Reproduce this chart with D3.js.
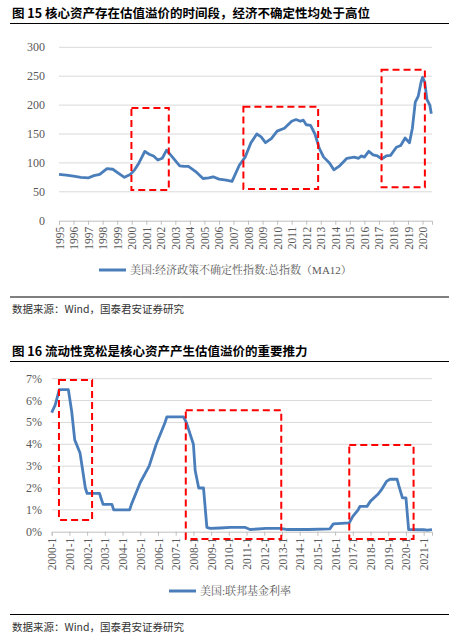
<!DOCTYPE html>
<html><head><meta charset="utf-8">
<script src="https://cdn.jsdelivr.net/npm/d3@7"></script>
<style>body{margin:0;background:#fff}</style>
</head><body>
<svg id="c" width="460" height="643"></svg>
<script>
// chart 1: US economic policy uncertainty index (MA12)
var epuYears = [1995,1995.5,1996,1996.5,1997,1997.4,1997.8,1998.3,1998.7,1999.1,1999.5,1999.9,2000.2,2000.5,2000.9,2001.2,2001.5,2001.8,2002.1,2002.4,2002.8,2003.3,2003.6,2003.9,2004.4,2004.9,2005.3,2005.6,2006.0,2006.5,2006.9,2007.4,2007.8,2008.2,2008.6,2008.9,2009.2,2009.6,2010.0,2010.5,2011.0,2011.3,2011.6,2011.8,2012.0,2012.3,2012.6,2012.9,2013.2,2013.6,2013.9,2014.3,2014.8,2015.3,2015.6,2015.8,2016.0,2016.3,2016.6,2016.9,2017.2,2017.5,2017.8,2018.2,2018.5,2018.8,2019.1,2019.3,2019.5,2019.7,2019.9,2020.0,2020.15,2020.3,2020.5,2020.6];
var epuValues = [80,79,77,75,74,78,80,90,89,82,75,80,88,100,120,115,112,105,108,122,110,95,94,94,85,73,74,76,72,70,68,96,110,135,150,145,135,142,155,160,172,175,172,174,166,165,150,125,110,100,88,95,108,110,108,112,110,120,114,112,107,112,113,127,130,143,135,160,205,215,240,248,240,210,200,185];
var epuTicks = d3.range(1995, 2021);
var epuBoxes = [[1999.98,2002.55,195,53],[2007.68,2012.82,197,55],[2017.18,2020.16,261,58]];

// chart 2: US federal funds rate (%)
var ffrYears = [2000,2000.2,2000.43,2000.94,2001.13,2001.3,2001.6,2001.9,2002.0,2002.7,2002.9,2003.4,2003.5,2004.4,2004.5,2005.0,2005.5,2005.9,2006.4,2006.5,2007.44,2007.6,2008.0,2008.1,2008.3,2008.57,2008.76,2008.95,2009.5,2010.1,2010.9,2011.2,2012.1,2012.9,2013.3,2014.5,2015.7,2015.9,2016.8,2017.0,2017.3,2017.4,2017.8,2018.0,2018.4,2018.6,2018.9,2019.1,2019.5,2019.6,2019.8,2020.0,2020.15,2021.0,2021.2,2021.47];
var ffrValues = [5.45,5.8,6.5,6.5,5.5,4.2,3.6,2.0,1.75,1.75,1.25,1.25,1.0,1.0,1.25,2.25,3.0,4.0,5.0,5.25,5.25,5.0,4.0,2.8,2.0,2.0,0.2,0.15,0.17,0.2,0.2,0.1,0.15,0.15,0.1,0.1,0.13,0.36,0.4,0.7,1.0,1.16,1.16,1.4,1.7,1.9,2.3,2.4,2.4,2.1,1.55,1.55,0.1,0.09,0.07,0.1];
var ffrTicks = d3.range(2000, 2022);
var ffrBoxes = [[2000.41,2002.28,6.94,0.54],[2007.57,2012.96,5.56,-0.33],[2016.8,2020.43,3.97,-0.33]];

var svg = d3.select("#c");
var blue = "#4a7ebb", grey = "#595959";
var serif = "'Liberation Serif','Noto Serif CJK SC','Noto Sans CJK SC',serif";
var cjk = "'Noto Sans CJK SC',sans-serif";

function panel(o) {
  var g = svg.append("g");
  g.append("text").attr("x", 12).attr("y", o.titleY).attr("font-family", cjk)
    .attr("font-weight", "bold").attr("font-size", 12.5).attr("fill", "#000").text(o.title);
  g.append("line").attr("x1", 10).attr("x2", 449).attr("y1", o.ruleY).attr("y2", o.ruleY)
    .attr("stroke", "#000").attr("stroke-width", 1);
  g.append("line").attr("x1", 10).attr("x2", 449).attr("y1", o.srcRule).attr("y2", o.srcRule)
    .attr("stroke", "#000").attr("stroke-width", 1);
  g.append("text").attr("x", 12).attr("y", o.srcRule + 16).attr("font-family", cjk)
    .attr("font-size", 10.5).attr("fill", "#333").text("数据来源：Wind，国泰君安证券研究");

  var x = d3.scaleLinear().domain(o.xDom).range(o.xRange);
  var y = d3.scaleLinear().domain(o.yDom).range(o.yRange);

  g.selectAll(".grid").data(o.yTicks.slice(1)).enter().append("line")
    .attr("x1", o.xRange[0]).attr("x2", o.xRange[1])
    .attr("y1", function(d){ return y(d); }).attr("y2", function(d){ return y(d); })
    .attr("stroke", "#d9d9d9").attr("stroke-width", 1);
  g.selectAll(".yl").data(o.yTicks).enter().append("text")
    .attr("x", o.yLabelX).attr("y", function(d){ return y(d) + 4; })
    .attr("text-anchor", "end").attr("font-family", serif).attr("font-size", 12)
    .attr("fill", grey).text(o.yFmt);

  var ax = g.append("g").attr("transform", "translate(0," + o.yRange[0] + ")")
    .call(d3.axisBottom(x).tickValues(o.xTicks).tickSize(4).tickFormat(o.xFmt));
  ax.select(".domain").attr("stroke", "#bfbfbf");
  ax.selectAll(".tick line").attr("stroke", "#bfbfbf");
  ax.selectAll("text").attr("transform", "rotate(-90)").attr("text-anchor", "end")
    .attr("x", -6).attr("y", 0).attr("dy", "0.35em")
    .attr("font-family", serif).attr("font-size", 11.5).attr("fill", grey);

  g.append("path").datum(d3.zip(o.xs, o.ys))
    .attr("d", d3.line().x(function(d){ return x(d[0]); }).y(function(d){ return y(d[1]); }))
    .attr("fill", "none").attr("stroke", blue).attr("stroke-width", 2.8)
    .attr("stroke-linejoin", "round");

  g.selectAll(".box").data(o.boxes).enter().append("rect")
    .attr("x", function(d){ return x(d[0]); }).attr("y", function(d){ return y(d[2]); })
    .attr("width", function(d){ return x(d[1]) - x(d[0]); })
    .attr("height", function(d){ return y(d[3]) - y(d[2]); })
    .attr("fill", "none").attr("stroke", "#ff0000").attr("stroke-width", 2)
    .attr("stroke-dasharray", "7,4");

  g.append("line").attr("x1", o.legX).attr("x2", o.legX + 27).attr("y1", o.legY).attr("y2", o.legY)
    .attr("stroke", blue).attr("stroke-width", 3);
  g.append("text").attr("x", o.legX + 31).attr("y", o.legY + 4).attr("font-family", serif)
    .attr("font-size", 11).attr("fill", grey).text(o.legend);
}

panel({
  title: "图 15 核心资产存在估值溢价的时间段，经济不确定性均处于高位",
  titleY: 18, ruleY: 23.5, srcRule: 297,
  xDom: [1995, 2020.65], xRange: [59, 432], xTicks: epuTicks, xFmt: d3.format("d"),
  yDom: [0, 300], yRange: [220.7, 47.3], yTicks: d3.range(0, 301, 50), yFmt: d3.format("d"), yLabelX: 45,
  xs: epuYears, ys: epuValues, boxes: epuBoxes,
  legX: 99, legY: 270, legend: "美国:经济政策不确定性指数:总指数（MA12）"
});

panel({
  title: "图 16 流动性宽松是核心资产产生估值溢价的重要推力",
  titleY: 356, ruleY: 361.5, srcRule: 614.5,
  xDom: [2000, 2021.47], xRange: [51.7, 432], xTicks: ffrTicks, xFmt: function(d){ return d + "-1"; },
  yDom: [0, 7], yRange: [531.7, 378.7], yTicks: d3.range(0, 8), yFmt: function(d){ return d + "%"; }, yLabelX: 42,
  xs: ffrYears, ys: ffrValues, boxes: ffrBoxes,
  legX: 169, legY: 591, legend: "美国:联邦基金利率"
});
</script>
</body></html>
